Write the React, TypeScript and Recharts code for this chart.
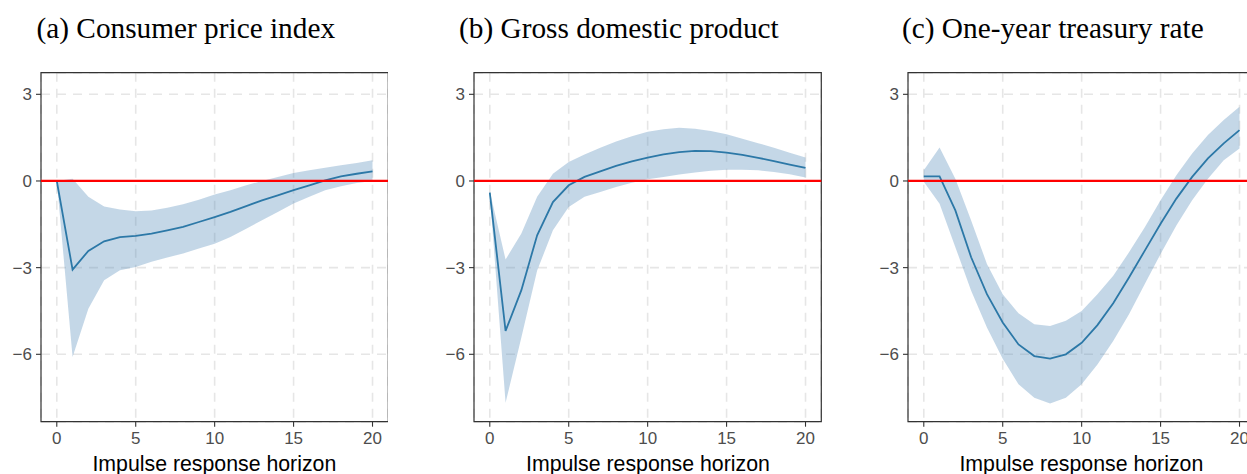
import React from 'react';
import { ComposedChart, Area, Line, XAxis, YAxis, CartesianGrid, ReferenceLine, ReferenceArea } from 'recharts';

const horizon = [0, 1, 2, 3, 4, 5, 6, 7, 8, 9, 10, 11, 12, 13, 14, 15, 16, 17, 18, 19, 20];

const cpiMid = [0, -3.07, -2.42, -2.09, -1.94, -1.9, -1.82, -1.71, -1.59, -1.42, -1.25, -1.07, -0.87, -0.67, -0.5, -0.32, -0.15, 0.02, 0.16, 0.25, 0.33];
const cpiHi = [0, 0.08, -0.55, -0.88, -0.99, -1.05, -1.02, -0.93, -0.81, -0.65, -0.47, -0.32, -0.15, 0, 0.14, 0.28, 0.37, 0.46, 0.54, 0.62, 0.72];
const cpiLo = [0, -6.09, -4.42, -3.44, -3.09, -2.98, -2.8, -2.65, -2.51, -2.34, -2.17, -1.94, -1.65, -1.36, -1.07, -0.78, -0.55, -0.32, -0.18, -0.07, 0];

const gdpMid = [-0.4, -5.19, -3.78, -1.88, -0.73, -0.15, 0.14, 0.33, 0.52, 0.68, 0.81, 0.92, 1.0, 1.04, 1.03, 0.98, 0.9, 0.8, 0.69, 0.57, 0.45];
const gdpHi = [-0.36, -2.72, -1.82, -0.55, 0.25, 0.66, 0.92, 1.15, 1.37, 1.55, 1.7, 1.79, 1.84, 1.81, 1.73, 1.62, 1.46, 1.31, 1.15, 0.98, 0.81];
const gdpLo = [-0.44, -7.68, -5.42, -3.1, -1.71, -0.9, -0.55, -0.38, -0.21, -0.06, 0.06, 0.14, 0.22, 0.29, 0.35, 0.39, 0.39, 0.37, 0.31, 0.23, 0.12];

const rateMid = [0.16, 0.16, -1.02, -2.64, -3.92, -4.9, -5.66, -6.06, -6.15, -6.0, -5.6, -4.99, -4.23, -3.34, -2.41, -1.48, -0.61, 0.14, 0.78, 1.3, 1.76];
const rateHi = [0.37, 1.16, 0.08, -1.37, -2.87, -3.92, -4.58, -4.96, -5.02, -4.84, -4.5, -3.92, -3.28, -2.47, -1.6, -0.67, 0.2, 0.95, 1.59, 2.11, 2.57];
const rateLo = [-0.03, -0.79, -2.29, -3.8, -5.07, -6.15, -7.04, -7.5, -7.7, -7.5, -7.04, -6.35, -5.54, -4.61, -3.57, -2.53, -1.54, -0.67, 0.08, 0.72, 1.12];

const titles = ['(a) Consumer price index', '(b) Gross domestic product', '(c) One-year treasury rate'];
const xTitle = 'Impulse response horizon';
const xTicks = [0, 5, 10, 15, 20];
const yTicks = [-6, -3, 0, 3];

const X_DOMAIN: [number, number] = [-1, 21];
const Y_DOMAIN: [number, number] = [-8.333, 3.748];

const PLOT_W = 347.3;
const Y_AXIS_W = 40;
const PLOT_TOP = 72.7;
const PLOT_BOTTOM = 421.7;
const H = 474;

const panels = [
  { left: 40.7, titleX: 36.5, mid: cpiMid, lo: cpiLo, hi: cpiHi },
  { left: 474.3, titleX: 459, mid: gdpMid, lo: gdpLo, hi: gdpHi },
  { left: 907.7, titleX: 902, mid: rateMid, lo: rateLo, hi: rateHi },
];

const tickStyle = { fill: '#4D4D4D', fontSize: 17, fontFamily: 'Liberation Sans, Arial, sans-serif' };

function Panel({ p }: { p: typeof panels[number] }) {
  const data = horizon.map((h, i) => ({ h, mid: p.mid[i], band: [p.lo[i], p.hi[i]] }));
  return (
    <div style={{ position: 'absolute', left: p.left - Y_AXIS_W, top: 0 }}>
      <ComposedChart
        width={Y_AXIS_W + PLOT_W}
        height={H}
        data={data}
        margin={{ top: PLOT_TOP, right: 0, bottom: 0, left: 0 }}
      >
        <CartesianGrid stroke="#E6E6E6" strokeWidth={1.6} strokeDasharray="9 7" />
        <XAxis
          dataKey="h"
          type="number"
          domain={X_DOMAIN}
          ticks={xTicks}
          interval={0}
          allowDataOverflow
          axisLine={false}
          tickLine={{ stroke: '#333333', strokeWidth: 1.1 }}
          tickSize={5}
          tickMargin={5}
          tick={tickStyle}
          height={H - PLOT_BOTTOM}
        />
        <YAxis
          type="number"
          domain={Y_DOMAIN}
          ticks={yTicks}
          interval={0}
          allowDataOverflow
          axisLine={false}
          tickLine={{ stroke: '#333333', strokeWidth: 1.1 }}
          tickSize={5}
          tickMargin={4}
          tick={tickStyle}
          width={Y_AXIS_W}
          tickFormatter={(v: number) => String(v).replace('-', '\u2212')}
        />
        <Area
          dataKey="band"
          type="linear"
          stroke="none"
          fill="#4682B4"
          fillOpacity={0.32}
          isAnimationActive={false}
          activeDot={false}
          dot={false}
        />
        <Line
          dataKey="mid"
          type="linear"
          stroke="#2C78A7"
          strokeWidth={1.8}
          dot={false}
          activeDot={false}
          isAnimationActive={false}
        />
        <ReferenceLine y={0} stroke="#FF0000" strokeWidth={2.2} ifOverflow="visible" />
        <ReferenceArea
          x1={X_DOMAIN[0]}
          x2={X_DOMAIN[1]}
          y1={Y_DOMAIN[0]}
          y2={Y_DOMAIN[1]}
          fill="none"
          fillOpacity={0}
          stroke="#333333"
          strokeWidth={1.2}
          ifOverflow="visible"
        />
      </ComposedChart>
    </div>
  );
}

export default function App() {
  return (
    <div
      style={{
        position: 'fixed',
        left: 0,
        top: 0,
        width: 1247,
        height: H,
        overflow: 'hidden',
        background: '#FFFFFF',
      }}
    >
      {panels.map((p, i) => (
        <Panel key={i} p={p} />
      ))}
      <svg
        width={1247}
        height={H}
        style={{ position: 'absolute', left: 0, top: 0, pointerEvents: 'none' }}
      >
        {panels.map((p, i) => (
          <text
            key={'t' + i}
            x={p.titleX}
            y={37.5}
            fontSize={29.3}
            fontFamily="Liberation Serif, Times New Roman, serif"
            fill="#000000"
          >
            {titles[i]}
          </text>
        ))}
        {panels.map((p, i) => (
          <text
            key={'x' + i}
            x={p.left + PLOT_W / 2}
            y={470.5}
            fontSize={21.3}
            textAnchor="middle"
            fontFamily="Liberation Sans, Arial, sans-serif"
            fill="#000000"
          >
            {xTitle}
          </text>
        ))}
      </svg>
    </div>
  );
}
